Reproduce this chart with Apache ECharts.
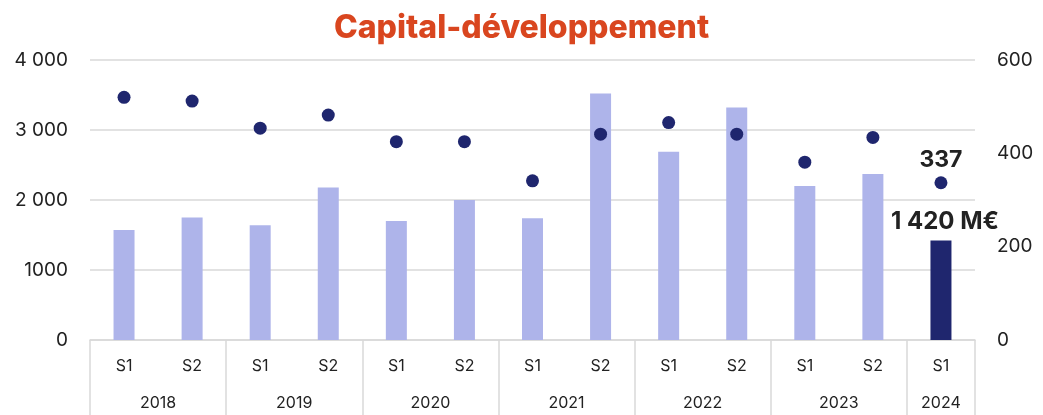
<!DOCTYPE html>
<html>
<head>
<meta charset="utf-8">
<script src="https://cdn.jsdelivr.net/npm/echarts@6/dist/echarts.min.js"></script>
<style>
  html, body { margin: 0; padding: 0; background: #fff; }
  #chart { width: 1043px; height: 415px; }
</style>
</head>
<body>
<div id="chart"></div>
<script>
// semestres et années
const periods = ['S1', 'S2', 'S1', 'S2', 'S1', 'S2', 'S1', 'S2', 'S1', 'S2', 'S1', 'S2', 'S1']
const years = ['2018', '2019', '2020', '2021', '2022', '2023', '2024']
const yearSpans = [2, 2, 2, 2, 2, 2, 1]

// montants investis (M€) — axe gauche
const amounts = [1570, 1750, 1640, 2180, 1700, 2000, 1740, 3520, 2690, 3320, 2200, 2370, 1420]
// nombre d'entreprises — axe droit
const companies = [520, 512, 454, 482, 425, 425, 341, 441, 466, 441, 381, 434, 337]

const leftTicks = ['0', '1000', '2 000', '3 000', '4 000']
const rightTicks = ['0', '200', '400', '600']

const FONT = 'Inter, "Noto Sans", sans-serif'
const LIGHT = '#AEB4EA'
const NAVY = '#1F266E'
const GRID = '#D9D9D9'

// axe des années : pas d'un demi-semestre, libellés au centre de chaque année
const halfSteps = new Array(periods.length * 2 + 1).fill('')
const separators = [0]
let pos = 0
years.forEach((y, i) => {
  halfSteps[pos + yearSpans[i]] = y
  pos += yearSpans[i] * 2
  separators.push(pos)
})

const last = amounts.length - 1

const chart = echarts.init(document.getElementById('chart'))
chart.setOption({
  animation: false,
  textStyle: { fontFamily: FONT },
  title: {
    text: 'Capital-développement',
    left: 'center',
    top: 7,
    textStyle: { fontFamily: FONT, fontSize: 32, fontWeight: 800, color: '#D9461F' }
  },
  grid: { left: 90, right: 68, top: 60, bottom: 75 },
  xAxis: [
    {
      type: 'category',
      data: periods,
      boundaryGap: true,
      axisLine: { lineStyle: { color: GRID, width: 1.5 } },
      axisTick: { show: false },
      axisLabel: { fontSize: 16, color: '#222', margin: 18, fontFamily: FONT }
    },
    {
      type: 'category',
      data: halfSteps,
      boundaryGap: false,
      position: 'bottom',
      axisLine: { show: false },
      axisTick: {
        show: true,
        length: 75,
        interval: (i) => separators.includes(i),
        lineStyle: { color: GRID, width: 1.5 }
      },
      axisLabel: { interval: 0, fontSize: 16, color: '#222', margin: 55, fontFamily: FONT }
    }
  ],
  yAxis: [
    {
      type: 'value',
      min: 0, max: 4000, interval: 1000,
      axisLine: { show: false },
      axisTick: { show: false },
      splitLine: { lineStyle: { color: GRID, width: 1.5 } },
      axisLabel: {
        fontSize: 19, color: '#222', margin: 22, fontFamily: FONT,
        formatter: (v) => leftTicks[v / 1000]
      }
    },
    {
      type: 'value',
      min: 0, max: 600, interval: 200,
      axisLine: { show: false },
      axisTick: { show: false },
      splitLine: { show: false },
      axisLabel: {
        fontSize: 19, color: '#222', margin: 22, fontFamily: FONT,
        formatter: (v) => rightTicks[v / 200]
      }
    }
  ],
  series: [
    {
      type: 'bar',
      barWidth: 21,
      data: amounts.map((v, i) => i === last ? {
        value: v,
        itemStyle: { color: NAVY },
        label: {
          show: true, position: 'top', distance: 7, offset: [4, 0],
          formatter: '1 420 M€',
          fontSize: 24, fontWeight: 'bold', color: '#222', fontFamily: FONT
        }
      } : v),
      itemStyle: { color: LIGHT }
    },
    {
      type: 'scatter',
      yAxisIndex: 1,
      symbolSize: 13,
      itemStyle: { color: NAVY, opacity: 1 },
      data: companies.map((v, i) => i === last ? {
        value: v,
        label: {
          show: true, position: 'top', distance: 5,
          fontSize: 23, fontWeight: 'bold', color: '#222', fontFamily: FONT
        }
      } : v)
    }
  ]
})
</script>
</body>
</html>
